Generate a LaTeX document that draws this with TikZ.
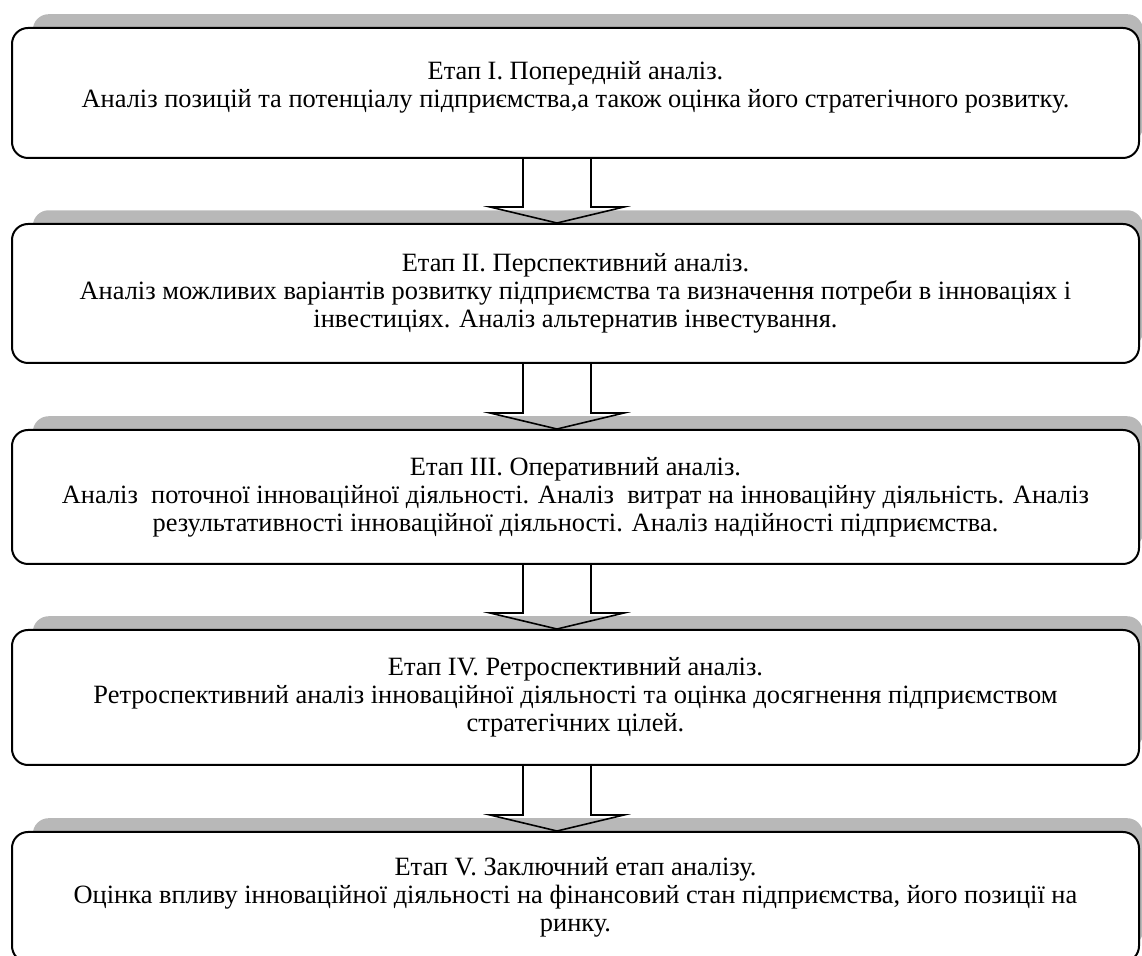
\documentclass[tikz,border=0pt]{standalone}
\usepackage{fontspec}
\setmainfont{Liberation Serif}
\usetikzlibrary{calc,shadows}
\tikzset{
  stagebox/.style={draw=black, line width=1pt, fill=white, rounded corners=8pt,
    minimum width=563.5pt, align=center, inner sep=0pt,
    font=\fontsize{13.2}{14}\selectfont,
    general shadow={fill=black!28, shadow xshift=6.3pt, shadow yshift=7.5pt, shadow scale=0.985}},
  stagearrow/.style={draw=black, line width=0.8pt, line join=miter}
}
% block arrow from one stage to the next
\def\stagearrow(#1)(#2){\draw[stagearrow] ($(#1.south)+(-52.5,0)$) -- ($(#2.north)+(-52.5,-16)$)
  -- ($(#2.north)+(-85.5,-16)$) -- ($(#2.north)+(-18.5,0)$) -- ($(#2.north)+(48.5,-16)$)
  -- ($(#2.north)+(15.5,-16)$) -- ($(#1.south)+(15.5,0)$);}

\begin{document}
\begin{tikzpicture}[x=0.5pt, y=-0.5pt]
		%%%%% START %%%%%
		\useasboundingbox (0, 0) rectangle (1142, 956);
		
		\node[stagebox, minimum height=65pt] (st1) at (575.5, 93) {Етап I. Попередній аналіз.\\
			Аналіз позицій та потенціалу підприємства,а також оцінка його стратегічного розвитку.\\[-5pt]};
		
		\node[stagebox, minimum height=69.5pt] (st2) at (575.5, 293.5) {Етап II. Перспективний аналіз.\\
			Аналіз можливих варіантів розвитку підприємства та визначення потреби в інноваціях і\\
			інвестиціях. Аналіз альтернатив інвестування.};
		
		\node[stagebox, minimum height=67pt] (st3) at (575.5, 497) {Етап III. Оперативний аналіз.\\
			Аналіз~ поточної інноваційної діяльності. Аналіз~ витрат на інноваційну діяльність. Аналіз\\
			результативності інноваційної діяльності. Аналіз надійності підприємства.};
		
		\node[stagebox, minimum height=67.5pt] (st4) at (575.5, 697.5) {Етап IV. Ретроспективний аналіз.\\
			Ретроспективний аналіз інноваційної діяльності та оцінка досягнення підприємством\\
			стратегічних цілей.};
		
		\node[stagebox, minimum height=65pt] (st5) at (575.5, 897) {Етап V. Заключний етап аналізу.\\
			Оцінка впливу інноваційної діяльності на фінансовий стан підприємства, його позиції на\\
			ринку.};
		
		\stagearrow(st1)(st2)
		\stagearrow(st2)(st3)
		\stagearrow(st3)(st4)
		\stagearrow(st4)(st5)
		
		%%%%% END %%%%%
	\end{tikzpicture}
\end{document}
